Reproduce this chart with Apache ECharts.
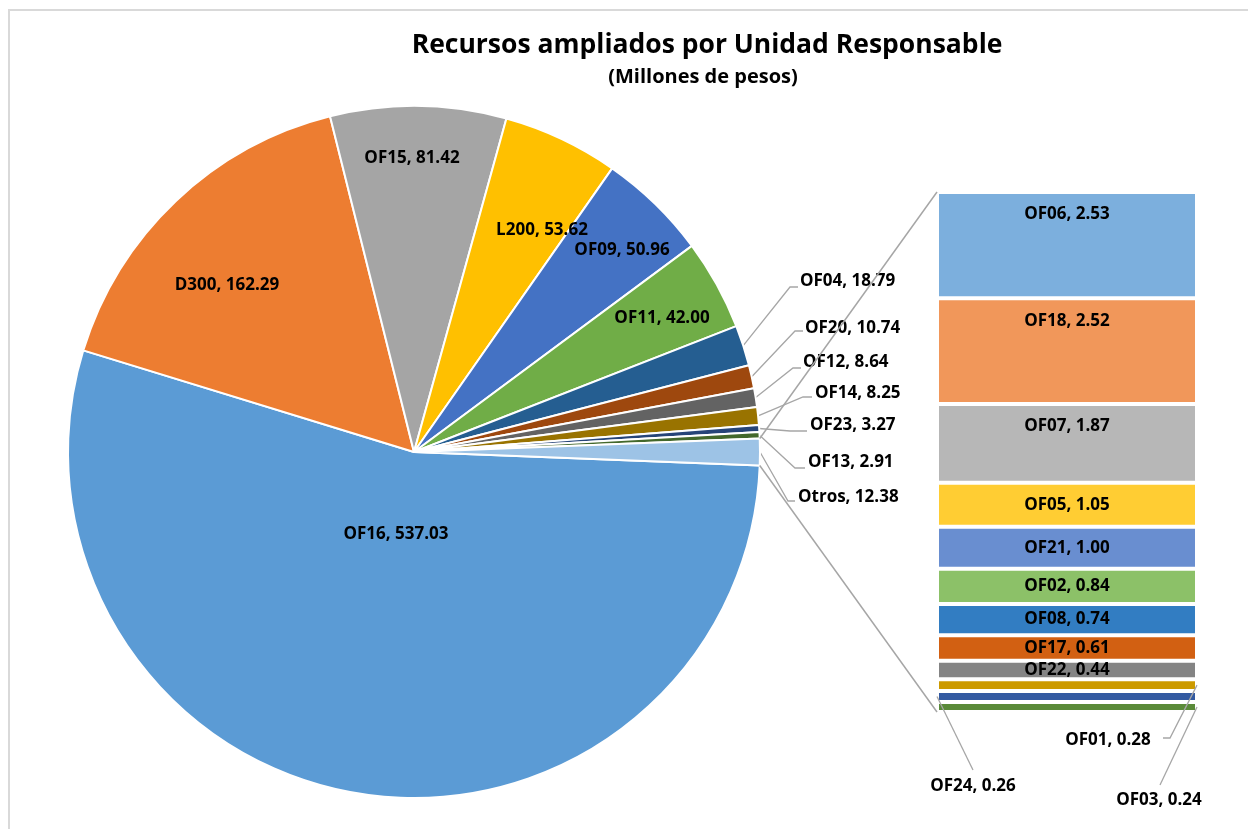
<!DOCTYPE html>
<html><head><meta charset="utf-8">
<script src="https://cdn.jsdelivr.net/npm/echarts@6/dist/echarts.min.js"></script>
<style>html,body{margin:0;padding:0;background:#fff}#c{width:1248px;height:829px}</style>
</head><body><div id="c"></div>
<script>
// ---- data ----
const pieNames  = ['OF16','D300','OF15','L200','OF09','OF11','OF04','OF20','OF12','OF14','OF23','OF13','Otros'];
const pieValues = [537.03,162.29,81.42,53.62,50.96,42.00,18.79,10.74,8.64,8.25,3.27,2.91,12.38];
const barNames  = ['OF06','OF18','OF07','OF05','OF21','OF02','OF08','OF17','OF22','OF01','OF24','OF03'];
const barValues = [2.53,2.52,1.87,1.05,1.00,0.84,0.74,0.61,0.44,0.28,0.26,0.24];
const titleText = 'Recursos ampliados por Unidad Responsable';
const subtitleText = '(Millones de pesos)';

// ---- styles ----
const pieColors = ['#5B9BD5','#ED7D31','#A5A5A5','#FFC000','#4472C4','#70AD47','#255E91','#9E480E','#636363','#997300','#264478','#43682B','#9DC3E6'];
const barColors = ['#7CAFDD','#F1975A','#B7B7B7','#FFCD33','#698ED0','#8CC168','#327DC2','#D26012','#848484','#CC9A00','#335AA1','#5A8A39'];
const FONT = 'Open Sans';
const LINE = '#A6A6A6';
const CX = 414, CY = 452, R = 346;
const GRID = {left: 937, top: 192, width: 260, height: 520};

// label placement (layout, not data)
const pieInsideLabelPos = {OF16:[396,534], D300:[227,285], OF15:[412,158], L200:[542,230], OF09:[622,250], OF11:[662,318]};
const pieOutsideLabelPos = {
  OF04:{x:800,y:281,ex:790,ey:287,lx:798},
  OF20:{x:805,y:328,ex:795,ey:331,lx:803},
  OF12:{x:803,y:362,ex:793,ey:368,lx:801},
  OF14:{x:815,y:393,ex:803,ey:397,lx:812},
  OF23:{x:810,y:425,ex:790,ey:431,lx:807},
  OF13:{x:808,y:462,ex:795,ey:468,lx:805},
  Otros:{x:798,y:497,ex:788,ey:501,lx:795}
};
const barOutsideLabel = {
  OF01:{x:1108,y:740,side:'right',pts:[[1170,738],[1163,738]]},
  OF24:{x:973,y:786,side:'left',pts:[[973,770]]},
  OF03:{x:1159,y:800,side:'right',pts:[[1160,785]]}
};

// ---- geometry from data ----
const total = pieValues.reduce((a,b)=>a+b,0);
const otrosDeg = pieValues[pieNames.indexOf('Otros')]/total*360;
const START = -otrosDeg/2;
const midAngles = []; let acc = START;
pieValues.forEach(v => { const s = v/total*360; midAngles.push(acc - s/2); acc -= s; });
function polar(r, deg){ const a = deg*Math.PI/180; return [CX + r*Math.cos(a), CY - r*Math.sin(a)]; }
const barTotal = barValues.reduce((a,b)=>a+b,0);

const fmt = p => p.name + ', ' + Number(p.value).toFixed(2);
const labelStyle = {color:'#000', fontFamily:FONT, fontWeight:'bold', fontSize:17};

const pieData = pieNames.map((n,i)=>{
  const inside = !!pieInsideLabelPos[n];
  return {name:n, value:pieValues[i], itemStyle:{color:pieColors[i]},
    label:{position: inside ? 'inside' : 'outside'}, labelLine:{show: !inside}};
});

const series = [{
  type:'pie', center:[CX,CY], radius:R, startAngle:START, clockwise:true,
  avoidLabelOverlap:false, animation:false, silent:true,
  itemStyle:{borderColor:'#fff', borderWidth:2},
  label:Object.assign({show:true, formatter:fmt}, labelStyle),
  labelLine:{show:true, length:10, length2:10, smooth:false, lineStyle:{color:LINE, width:1.3}},
  emphasis:{disabled:true},
  data:pieData,
  labelLayout:function(p){
    const n = pieNames[p.dataIndex];
    if (pieInsideLabelPos[n]) { const q = pieInsideLabelPos[n]; return {x:q[0], y:q[1], align:'center', verticalAlign:'middle'}; }
    const o = pieOutsideLabelPos[n];
    const e = polar(R, midAngles[p.dataIndex]);
    return {x:o.x, y:o.y, align:'left', verticalAlign:'middle', labelLinePoints:[e,[o.ex,o.ey],[o.lx,o.ey]]};
  }
}];

barNames.forEach((n,i)=>{
  const out = barOutsideLabel[n];
  const s = {
    type:'bar', name:n, stack:'otros', barWidth:'100%', animation:false, silent:true,
    itemStyle:{color:barColors[i], borderColor:'#fff', borderWidth:2},
    emphasis:{disabled:true},
    label:Object.assign({show:true, formatter:fmt,
      position: barValues[i] >= 1.5 ? 'insideTop' : 'inside', distance:14}, labelStyle),
    data:[{name:n, value:barValues[i]}]
  };
  if (out) s.labelLayout = function(){ return {x:out.x, y:out.y, align:'center', verticalAlign:'middle'}; };
  series.push(s);
});

const chart = echarts.init(document.getElementById('c'), null, {renderer:'canvas'});
const baseGraphic = [
  {id:'frame', type:'rect', z:100, shape:{x:9, y:10, width:1320, height:900}, style:{fill:'none', stroke:'#D9D9D9', lineWidth:2}, silent:true},
  {id:'t1', type:'text', z:100, x:707, y:45, style:{text:titleText, fill:'#000', font:'bold 26.5px "Open Sans"', align:'center', verticalAlign:'middle'}},
  {id:'t2', type:'text', z:100, x:703, y:77, style:{text:subtitleText, fill:'#000', font:'bold 20px "Open Sans"', align:'center', verticalAlign:'middle'}}
];
chart.setOption({
  animation:false,
  grid:Object.assign({}, GRID),
  xAxis:{type:'category', data:['Otros'], show:false, boundaryGap:true},
  yAxis:{type:'value', inverse:true, min:0, max:barTotal, show:false},
  series:series,
  graphic:baseGraphic
});

// connectors derived from the layout
const yPix = v => chart.convertToPixel({yAxisIndex:0}, v);
const barL = GRID.left, barR = GRID.left + GRID.width;
const pTop = polar(R, otrosDeg/2), pBot = polar(R, -otrosDeg/2);
const g = [
  {id:'c1', type:'line', z:100, shape:{x1:pTop[0], y1:pTop[1], x2:barL, y2:yPix(0)}, style:{stroke:LINE, lineWidth:1.5}, silent:true},
  {id:'c2', type:'line', z:100, shape:{x1:pBot[0], y1:pBot[1], x2:barL, y2:yPix(barTotal)}, style:{stroke:LINE, lineWidth:1.5}, silent:true}
];
let cum = 0;
barNames.forEach((n,i)=>{
  const mid = cum + barValues[i]/2; cum += barValues[i];
  const out = barOutsideLabel[n];
  if (!out) return;
  const start = [out.side === 'right' ? barR : barL, yPix(mid)];
  g.push({id:'l'+n, type:'polyline', z:100, shape:{points:[start].concat(out.pts)}, style:{stroke:LINE, lineWidth:1.3, fill:'none'}, silent:true});
});
chart.setOption({graphic: baseGraphic.concat(g)});
</script>
</body></html>
